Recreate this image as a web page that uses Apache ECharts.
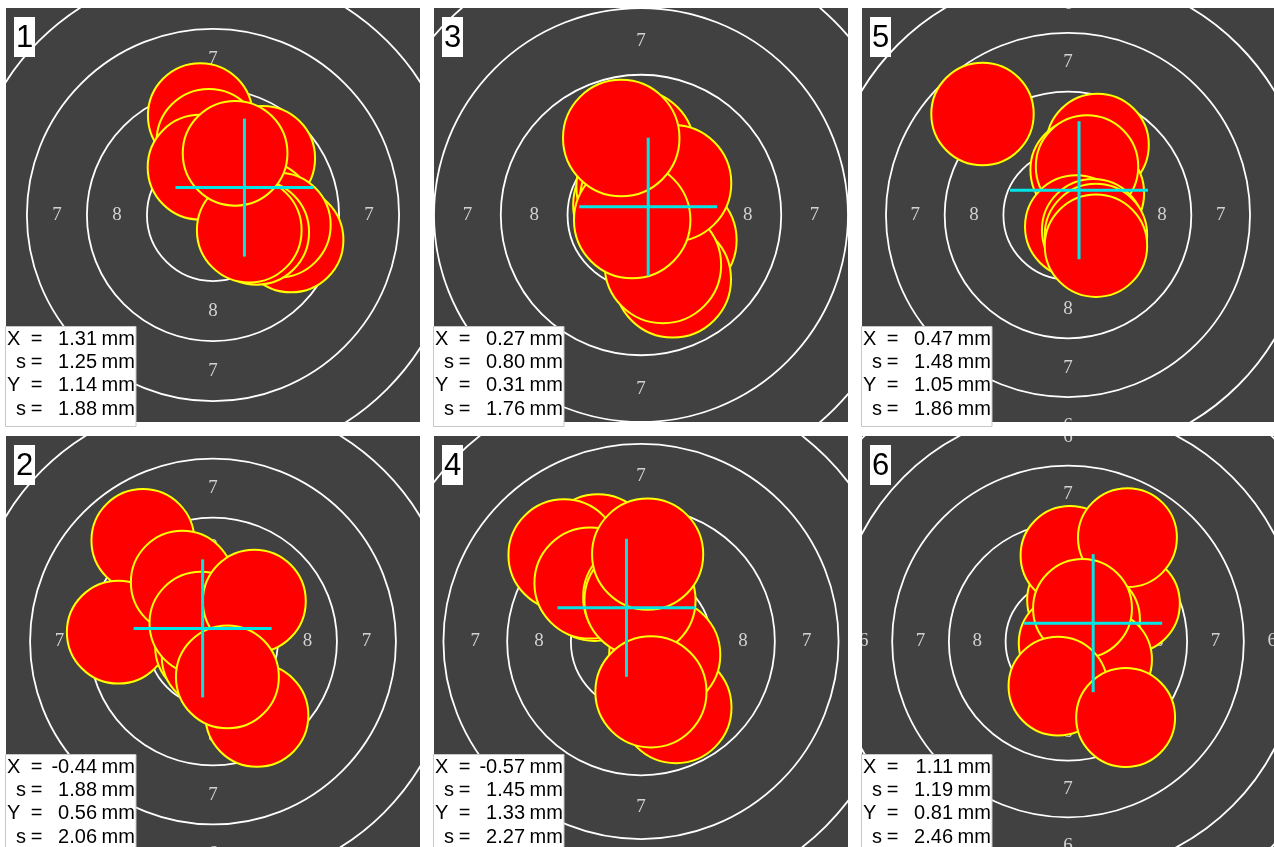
<!DOCTYPE html>
<html>
<head>
<meta charset="utf-8">
<title>targets</title>
<script src="https://cdn.jsdelivr.net/npm/echarts/dist/echarts.min.js"></script>
<style>
html,body{margin:0;padding:0;background:#fff;}
#main{width:1274px;height:847px;}
</style>
</head>
<body>
<div id="main"></div>
<script>
// panel numbers and the stats printed in each box (mm)
var panelNames = ['1', '2', '3', '4', '5', '6'];
var meanX = [1.31, -0.44, 0.27, -0.57, 0.47, 1.11];
var sdX   = [1.25, 1.88, 0.80, 1.45, 1.48, 1.19];
var meanY = [1.14, 0.56, 0.31, 1.33, 1.05, 0.81];
var sdY   = [1.88, 2.06, 1.76, 2.27, 1.86, 2.46];

// visible half range of each target (mm)
var viewHalf = [8.62, 8.77, 7.75, 8.12, 8.77, 9.08];

// ring radii (mm) and the ring numbers written between them
var ringRadius = [2.75, 5.25, 7.75, 10.25, 12.75, 15.25];
var ringText = ['8', '7', '6', '5'];
var ringTextRadius = [4.0, 6.5, 9.0, 11.5];
var shotRadius = 2.18;

// shot centres (mm), drawn back to front
var shotX1 = [-0.53, -0.17, -0.54, 2.07, 2.03, 3.25, 2.72, 1.82, 1.51, 0.92];
var shotY1 = [4.14, 3.07, 1.99, 2.36, 0.07, -1.04, -0.42, -0.72, -0.63, 2.57];
var shotX2 = [-2.97, -4.01, -0.27, 0.01, 0.49, 1.86, -1.30, -0.51, 1.75, 0.61];
var shotY2 = [4.31, 0.40, -0.21, -0.64, 1.43, -3.15, 2.53, 0.78, 1.72, -1.51];
var shotX3 = [-0.18, -0.36, -0.24, -0.11, 1.40, 1.19, 0.82, 1.20, -0.33, -0.74];
var shotY3 = [2.50, 0.37, 1.06, 0.56, -0.94, -2.41, -1.87, 1.19, -0.19, 2.88];
var shotX4 = [-1.69, -3.02, -1.82, -2.00, -0.09, 1.37, 0.93, -0.04, 0.39, 0.26];
var shotY4 = [3.62, 3.42, 2.22, 2.31, 1.76, -2.61, -0.52, 1.63, -1.99, 3.45];
var shotX5 = [-3.64, 1.26, 0.81, 0.58, 1.06, 0.81, 0.35, 1.07, 1.19, 1.19];
var shotY5 = [4.28, 2.97, 1.60, 1.91, 0.92, 2.06, -0.49, -0.64, -0.85, -1.30];
var shotX6 = [0.38, 2.75, 0.09, 2.62, 0.99, 0.01, 1.52, 0.64, -0.44, 2.54];
var shotY6 = [1.83, 1.68, 3.80, 4.59, 0.96, -0.07, -0.80, 1.46, -1.97, -3.36];

var shotXs = [shotX1, shotX2, shotX3, shotX4, shotX5, shotX6];
var shotYs = [shotY1, shotY2, shotY3, shotY4, shotY5, shotY6];

var PANEL = 414, GAP = 14;
var SANS = '"Liberation Sans", Arial, sans-serif';
var SERIF = '"Liberation Serif", "Times New Roman", serif';

function ringItem(params, api){
	var c = api.coord([0, 0]);
	var r = api.size([api.value(0), 0])[0];
	return {
		type: 'circle',
		shape: {cx: c[0], cy: c[1], r: r},
		style: {fill: 'none', stroke: '#ffffff', lineWidth: 1.8}
	};
}

function labelItem(params, api){
	var c = api.coord([0, 0]);
	var r = api.size([api.value(0), 0])[0];
	var txt = ringText[params.dataIndex];
	var pts = [[0, -r], [r, 0], [0, r], [-r, 0]];
	var kids = [];
	for (var i = 0; i < pts.length; i++) {
		kids.push({
			type: 'text',
			x: c[0] + pts[i][0],
			y: c[1] + pts[i][1],
			style: {
				text: txt, align: 'center', verticalAlign: 'middle',
				fill: '#d2d2d2', font: '19px ' + SERIF
			}
		});
	}
	return {type: 'group', children: kids};
}

function shotItem(params, api){
	var c = api.coord([api.value(0), api.value(1)]);
	var r = api.size([shotRadius, 0])[0];
	return {
		type: 'circle',
		shape: {cx: c[0], cy: c[1], r: r},
		style: {fill: '#ff0000', stroke: '#ffff00', lineWidth: 2}
	};
}

function crossItem(params, api){
	var c = api.coord([api.value(0), api.value(1)]);
	var L = 69;
	return {type: 'group', children: [
		{type: 'line', shape: {x1: c[0] - L, y1: c[1], x2: c[0] + L, y2: c[1]}, style: {stroke: '#00e6e6', lineWidth: 3}},
		{type: 'line', shape: {x1: c[0], y1: c[1] - L, x2: c[0], y2: c[1] + L}, style: {stroke: '#00e6e6', lineWidth: 3}}
	]};
}

function statText(str, x, y, align){
	return {type: 'text', z: 101, silent: true, x: x, y: y,
		style: {text: str, align: align, verticalAlign: 'middle', fill: '#000000', font: '20px ' + SANS}};
}

var grids = [], xAxes = [], yAxes = [], series = [], graphics = [];

for (var p = 0; p < 6; p++) {
	var col = Math.floor(p / 2), row = p % 2;
	var pLeft = 6 + col * (PANEL + GAP);
	var pTop = 8 + row * (PANEL + GAP);
	var h = viewHalf[p];

	grids.push({left: pLeft, top: pTop, width: PANEL, height: PANEL,
		show: true, backgroundColor: '#414141', borderWidth: 0});
	xAxes.push({type: 'value', gridIndex: p, min: -h, max: h, show: false});
	yAxes.push({type: 'value', gridIndex: p, min: -h, max: h, show: false});

	var shots = [];
	for (var k = 0; k < shotXs[p].length; k++) shots.push([shotXs[p][k], shotYs[p][k]]);
	var rings = [], labs = [];
	for (k = 0; k < ringRadius.length; k++) rings.push([ringRadius[k], 0]);
	for (k = 0; k < ringTextRadius.length; k++) labs.push([ringTextRadius[k], 0]);

	series.push({type: 'custom', xAxisIndex: p, yAxisIndex: p, clip: true, silent: true,
		renderItem: ringItem, data: rings});
	series.push({type: 'custom', xAxisIndex: p, yAxisIndex: p, clip: true, silent: true,
		renderItem: labelItem, data: labs});
	series.push({type: 'custom', xAxisIndex: p, yAxisIndex: p, clip: true, silent: true,
		renderItem: shotItem, data: shots});
	series.push({type: 'custom', xAxisIndex: p, yAxisIndex: p, clip: true, silent: true,
		renderItem: crossItem, data: [[meanX[p], meanY[p]]]});

	// panel number
	graphics.push({type: 'rect', z: 100, silent: true,
		shape: {x: pLeft + 8, y: pTop + 9, width: 21, height: 40},
		style: {fill: '#ffffff'}});
	graphics.push({type: 'text', z: 101, silent: true, x: pLeft + 18.5, y: pTop + 30,
		style: {text: panelNames[p], align: 'center', verticalAlign: 'middle',
			fill: '#000000', font: '31px ' + SANS}});

	// stats box
	graphics.push({type: 'rect', z: 100, silent: true,
		shape: {x: pLeft - 0.5, y: pTop + 318.5, width: 130.5, height: 100},
		style: {fill: '#ffffff', stroke: '#c8c8c8', lineWidth: 1}});
	var names = ['X', 's', 'Y', 's'];
	var vals = [meanX[p], sdX[p], meanY[p], sdY[p]];
	for (var i = 0; i < 4; i++) {
		var yy = pTop + 331 + i * 23.4;
		graphics.push(statText(names[i], pLeft + (i % 2 ? 10 : 1), yy, 'left'));
		graphics.push(statText('=', pLeft + 30.7, yy, 'center'));
		graphics.push(statText(vals[i].toFixed(2), pLeft + 91, yy, 'right'));
		graphics.push(statText('mm', pLeft + 95.5, yy, 'left'));
	}
}

var chart = echarts.init(document.getElementById('main'));
chart.setOption({
	animation: false,
	backgroundColor: '#ffffff',
	grid: grids,
	xAxis: xAxes,
	yAxis: yAxes,
	series: series
});
chart.setOption({graphic: {elements: graphics}});
</script>
</body>
</html>
